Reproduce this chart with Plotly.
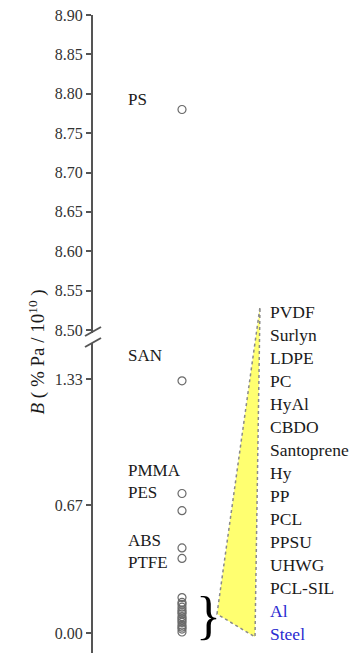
import plotly.graph_objects as go

# ---- data -------------------------------------------------------------
# upper (broken) segment of the axis
upper_names = ["PS"]
upper_values = [8.78]

# lower segment: individually labelled materials
lower_names = ["SAN", "PMMA", "PES", "ABS", "PTFE"]
lower_values = [1.32, 0.73, 0.64, 0.445, 0.39]

# clustered low-B materials (listed on the right)
cluster_names = ["PVDF", "Surlyn", "LDPE", "PC", "HyAl", "CBDO", "Santoprene",
                 "Hy", "PP", "PCL", "PPSU", "UHWG", "PCL-SIL", "Al", "Steel"]
cluster_values = [0.185, 0.16, 0.15, 0.135, 0.12, 0.11, 0.10,
                  0.085, 0.075, 0.065, 0.055, 0.04, 0.03, 0.02, 0.005]

upper_ticks = [8.50, 8.55, 8.60, 8.65, 8.70, 8.75, 8.80, 8.85, 8.90]
lower_ticks = [0.00, 0.67, 1.33]
lower_ticktext = ["0.00", "0.67", "1.33"]

# ---- layout helpers ---------------------------------------------------
W, H = 356, 653
FONT = "Liberation Serif"
TXT = "#1a1a1a"
BLUE = "#2a2ad0"
MARK = "#6a6a6a"
AXIS = "#555555"
COL_X = 182          # column of markers (pixel x, used as the x-axis unit)


def px(x):
    return x / W


def py(y):
    return 1 - y / H


fig = go.Figure()

fig.add_trace(go.Scatter(
    x=[COL_X] * len(upper_values), y=upper_values, yaxis="y",
    mode="markers", text=upper_names,
    marker=dict(symbol="circle-open", size=8, color=MARK, line=dict(width=1.2)),
    showlegend=False, hoverinfo="text+y"))

fig.add_trace(go.Scatter(
    x=[COL_X] * (len(lower_values) + len(cluster_values)),
    y=lower_values + cluster_values, yaxis="y2",
    mode="markers", text=lower_names + cluster_names,
    marker=dict(symbol="circle-open", size=8, color=MARK, line=dict(width=1.2)),
    showlegend=False, hoverinfo="text+y"))

tickfont = dict(family=FONT, size=16, color="#333333")
common_axis = dict(showline=True, linecolor=AXIS, linewidth=2, ticks="outside",
                   ticklen=5, tickwidth=1.5, tickcolor=AXIS, showgrid=False,
                   zeroline=False, tickfont=tickfont, anchor="x",
                   automargin=False)

fig.update_layout(
    width=W, height=H,
    margin=dict(l=0, r=0, t=0, b=0, pad=0, autoexpand=False),
    paper_bgcolor="white", plot_bgcolor="white",
    xaxis=dict(domain=[px(93), 1], range=[93, W], visible=False,
               automargin=False),
    yaxis=dict(domain=[py(333), py(15)], range=[8.4962, 8.90],
               tickvals=upper_ticks, tickformat=".2f", **common_axis),
    yaxis2=dict(domain=[0, py(343)], range=[-0.105, 1.518],
                tickvals=lower_ticks, ticktext=lower_ticktext, **common_axis),
)

annotations = []

# axis title
annotations.append(dict(
    x=px(22), y=py(352), xref="paper", yref="paper", textangle=-90,
    text="<i>B</i> ( % Pa / 10<sup>10</sup> )", showarrow=False,
    font=dict(family=FONT, size=19, color=TXT)))

# labels beside the individual markers (pixel positions of the text)
left_label_y = {"PS": 100, "SAN": 355, "PMMA": 470, "PES": 492, "ABS": 540, "PTFE": 562}
for name in upper_names + lower_names:
    annotations.append(dict(
        x=px(126), y=py(left_label_y[name]), xref="paper", yref="paper",
        xanchor="left", yanchor="middle", text=name, showarrow=False,
        font=dict(family=FONT, size=17, color=TXT)))

# list of clustered materials
for i, name in enumerate(cluster_names):
    color = BLUE if name in ("Al", "Steel") else TXT
    annotations.append(dict(
        x=px(268), y=py(312 + 23 * i), xref="paper", yref="paper",
        xanchor="left", yanchor="middle", text=name, showarrow=False,
        font=dict(family=FONT, size=17.5, color=color)))

# brace grouping the cluster
annotations.append(dict(
    x=px(208), y=py(615), xref="paper", yref="paper",
    xanchor="center", yanchor="middle", text="}", showarrow=False,
    font=dict(family=FONT, size=52, color="black")))

fig.update_layout(annotations=annotations)

# yellow wedge fanning from the brace to the list
fig.add_shape(
    type="path", xref="paper", yref="paper",
    path=f"M {px(217)} {py(614)} L {px(260)} {py(307)} L {px(255)} {py(637)} Z",
    fillcolor="#ffff70", line=dict(color="#8a8a8a", width=1.5, dash="dot"),
    layer="below")

# axis-break marks
for y0 in (336, 347):
    fig.add_shape(type="line", xref="paper", yref="paper",
                  x0=px(85), y0=py(y0), x1=px(101), y1=py(y0 - 9),
                  line=dict(color=AXIS, width=2))

fig.write_html("out.html")
